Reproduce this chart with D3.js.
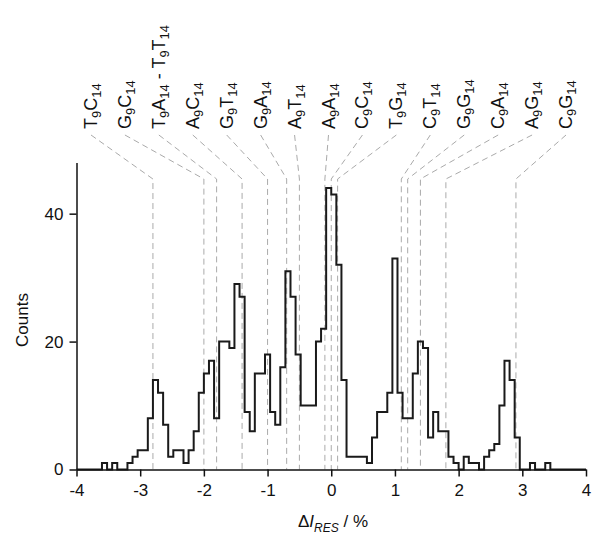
<!DOCTYPE html>
<html>
<head>
<meta charset="utf-8">
<script src="https://cdn.jsdelivr.net/npm/d3@7"></script>
<style>
  body { margin: 0; background: #fff; }
  text { font-family: "Liberation Sans", Arial, sans-serif; fill: #111; }
</style>
</head>
<body>
<svg id="chart" width="600" height="544"></svg>
<script>
// histogram: 100 bins of width 0.08 from -4 to 4
const binStart = -4;
const binWidth = 0.08;
const counts = [
  0, 0, 0, 0, 0, 1, 0, 1, 0, 0,
  1, 2, 3, 3, 8, 14, 12, 7, 2, 3,
  3, 1, 3, 6, 12, 15, 17, 8, 20, 20,
  19, 29, 27, 9, 6, 15, 15, 18, 9, 7,
  16, 31, 27, 18, 10, 10, 10, 20, 22, 44,
  43, 32, 14, 2, 2, 2, 2, 1, 5, 9,
  9, 12, 33, 12, 8, 8, 15, 20, 19, 5,
  9, 6, 6, 2, 1, 0, 2, 1, 1, 0,
  2, 3, 4, 10, 17, 14, 5, 0, 0, 1,
  0, 0, 1, 0, 0, 0, 0, 0, 0, 0
];

// assigned pairs and their expected shift
const peakLabels = ["T9C14", "G9C14", "T9A14 - T9T14", "A9C14", "G9T14", "G9A14", "A9T14",
  "A9A14", "C9C14", "T9G14", "C9T14", "G9G14", "C9A14", "A9G14", "C9G14"];
const peakValues = [-2.8, -2.0, -1.8, -1.4, -1.0, -0.7, -0.5, -0.1, 0.0, 0.1, 1.1, 1.2, 1.4, 1.8, 2.9];

const xMajor = [-4, -3, -2, -1, 0, 1, 2, 3, 4];
const yMajor = [0, 20, 40];
const yMinor = [5, 10, 15, 25, 30, 35, 45];

const svg = d3.select("#chart");
svg.append("rect").attr("width", 600).attr("height", 544).attr("fill", "#fff");

const x = d3.scaleLinear().domain([-4, 4]).range([76.5, 586]);
const y = d3.scaleLinear().domain([0, 48]).range([469.5, 162.5]);

// label slots across the top
const slot = d3.scalePoint().domain(peakLabels).range([91, 566]);
const labelBottom = 129;
const bendY = 179;

// dashed guide lines
const guides = svg.append("g")
  .attr("fill", "none")
  .attr("stroke", "#aaa")
  .attr("stroke-width", 1)
  .attr("stroke-dasharray", "6,4");

peakLabels.forEach((name, i) => {
  const px = x(peakValues[i]);
  guides.append("path")
    .attr("d", d3.line()([[slot(name), labelBottom + 6], [px, bendY], [px, y(0)]]));
});

// rotated labels, digits as subscripts
const labels = svg.append("g");
peakLabels.forEach(name => {
  const t = labels.append("text")
    .attr("font-size", 18)
    .attr("transform", `translate(${slot(name) + 6},${labelBottom}) rotate(-90)`);
  let shift = 0;
  name.split(/(\d+)/).filter(s => s.length).forEach(part => {
    const sub = /^\d+$/.test(part);
    const target = sub ? 4 : 0;
    const ts = t.append("tspan").attr("dy", target - shift).text(part);
    if (sub) ts.attr("font-size", 13);
    shift = target;
  });
});

// histogram outline
const edges = counts.map((c, i) => [binStart + i * binWidth, c]);
edges.push([4, 0]);
svg.append("path")
  .datum(edges)
  .attr("fill", "none")
  .attr("stroke", "#1a1a1a")
  .attr("stroke-width", 2)
  .attr("d", d3.line().x(d => x(d[0])).y(d => y(d[1])).curve(d3.curveStepAfter));

// axes
const xAxis = svg.append("g").attr("transform", `translate(0,${y(0)})`);
xAxis.call(d3.axisBottom(x).tickValues(d3.range(-4, 4.001, 0.2)).tickSize(4).tickSizeOuter(0).tickFormat(""));
xAxis.call(d3.axisBottom(x).tickValues(xMajor).tickSize(7).tickSizeOuter(0).tickPadding(7).tickFormat(d => String(d)));

const yAxis = svg.append("g").attr("transform", `translate(${x(-4)},0)`);
yAxis.call(d3.axisLeft(y).tickValues(yMinor).tickSize(5).tickSizeOuter(0).tickFormat(""));
yAxis.call(d3.axisLeft(y).tickValues(yMajor).tickSize(7).tickSizeOuter(0).tickPadding(6));

svg.selectAll(".domain").attr("stroke", "#111").attr("stroke-width", 1.5);
svg.selectAll(".tick line").attr("stroke", "#111").attr("stroke-width", 1.5);
svg.selectAll(".tick text").attr("font-size", 17).attr("font-family", "Liberation Sans, Arial, sans-serif").attr("fill", "#111");

// axis titles
const xt = svg.append("text")
  .attr("x", 333).attr("y", 527)
  .attr("text-anchor", "middle")
  .attr("font-size", 17);
xt.append("tspan").text("\u0394");
xt.append("tspan").attr("font-style", "italic").text("I");
xt.append("tspan").attr("font-style", "italic").attr("font-size", 12).attr("dy", 5).text("RES");
xt.append("tspan").attr("dy", -5).text(" / %");

svg.append("text")
  .attr("transform", "translate(28,320) rotate(-90)")
  .attr("text-anchor", "middle")
  .attr("font-size", 17)
  .text("Counts");
</script>
</body>
</html>
